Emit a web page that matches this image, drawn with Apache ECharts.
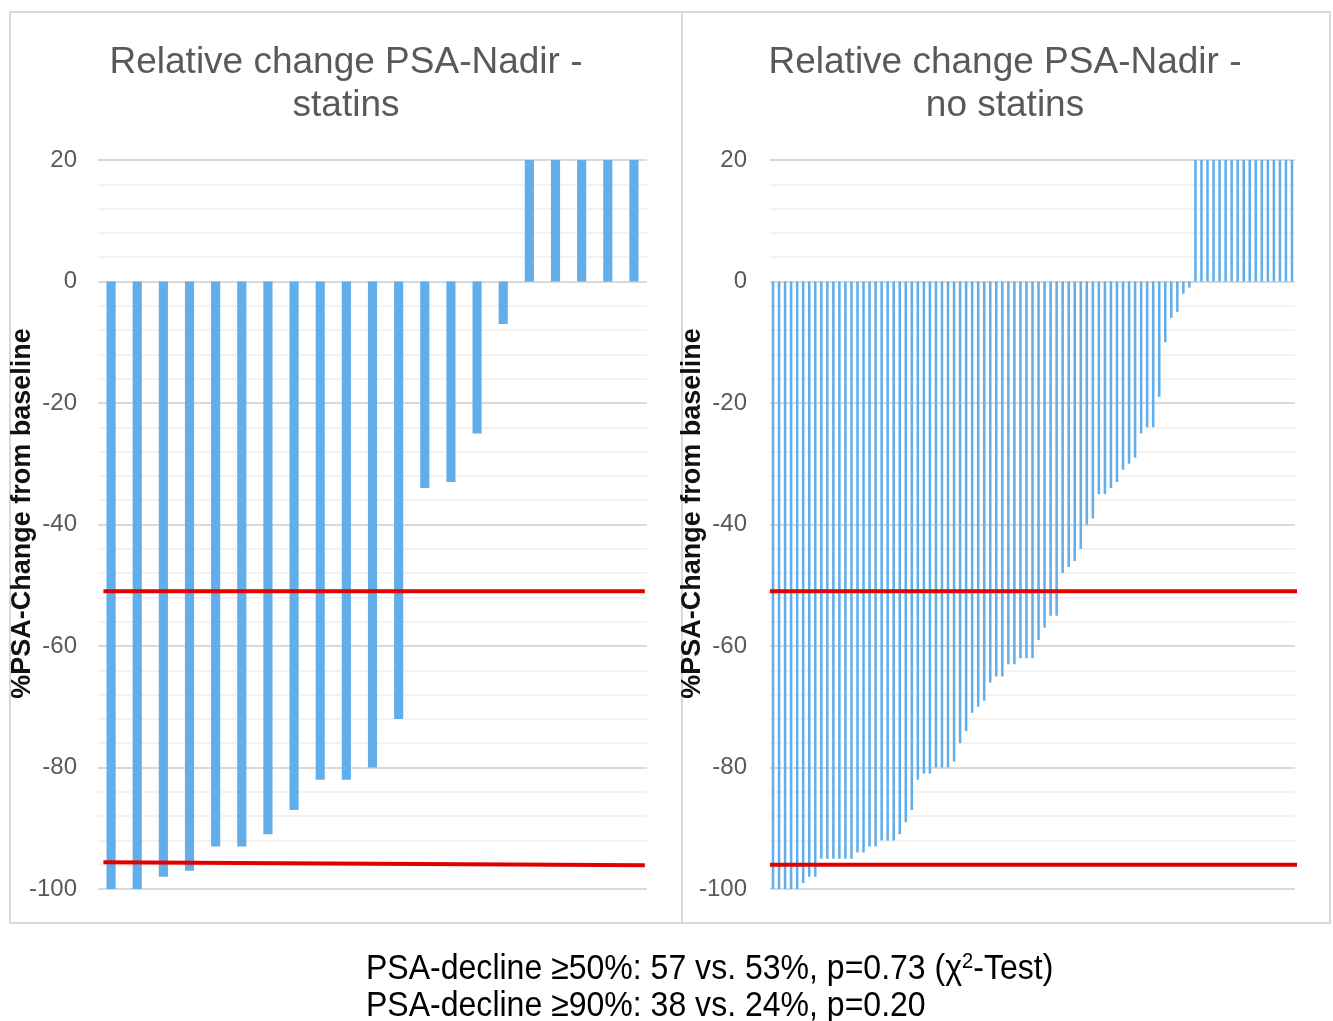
<!DOCTYPE html>
<html>
<head>
<meta charset="utf-8">
<script src="https://cdn.jsdelivr.net/npm/echarts@6/dist/echarts.min.js"></script>
<style>
html,body{margin:0;padding:0;background:#fff;}
#chart{width:1333px;height:1021px;}
</style>
</head>
<body>
<div id="chart"></div>
<script>
// ---- data ----
var titleLeft = 'Relative change PSA-Nadir -\nstatins';
var titleRight = 'Relative change PSA-Nadir -\nno statins';
var yAxisName = '%PSA-Change from baseline';
var yTicks = [-100, -80, -60, -40, -20, 0, 20];

// relative PSA change per patient, statins group (capped at +20)
var statinsValues = [-100, -100, -98, -97, -93, -93, -91, -87, -82, -82, -80, -72,
  -34, -33, -25, -7, 20, 20, 20, 20, 20];

// relative PSA change per patient, no-statins group (capped at +20)
var noStatinsValues = [-100, -100, -100, -100, -100,
  -99, -98, -98,
  -95, -95, -95, -95, -95, -95,
  -94, -94, -93, -93,
  -92, -92, -92, -91, -89, -87,
  -82, -81, -81, -80, -80, -80,
  -79, -76, -74, -71, -70, -69,
  -66, -65, -65, -63, -63,
  -62, -62, -62, -59, -57, -55, -55,
  -48, -47, -46, -44, -40, -39,
  -35, -35, -34, -33, -31, -30, -29,
  -25, -24, -24, -19, -10, -6, -5, -2, -1,
  20, 20, 20, 20, 20, 20, 20, 20, 20, 20, 20, 20, 20, 20, 20, 20, 20];

var statinsCategories = statinsValues.map(function (v, i) { return 'S' + (i + 1); });
var noStatinsCategories = noStatinsValues.map(function (v, i) { return 'N' + (i + 1); });

// threshold reference lines (50% and ~96% decline), [start, end]
var refLineX = [0, 1];
var statinsRef50 = [-51, -51];
var statinsRef90 = [-95.6, -96.1];
var noStatinsRef50 = [-51, -51];
var noStatinsRef90 = [-96, -96];

var summaryText = 'PSA-decline \u226550%: 57 vs. 53%, p=0.73 (\u03c7{sup|2}-Test)\nPSA-decline \u226590%: 38 vs. 24%, p=0.20';

// ---- chart ----
var FONT = '"Liberation Sans", Arial, Helvetica, sans-serif';
var BAR = '#62aeea';
var RED = '#e00000';

function yAxisCfg(grid, margin, gap) {
  return {
    gridIndex: grid, type: 'value', min: -100, max: 20, interval: 20,
    axisLine: {show: false}, axisTick: {show: false},
    axisLabel: {color: '#595959', fontSize: 24, margin: margin, fontFamily: FONT,
      customValues: yTicks},
    splitLine: {lineStyle: {color: '#d9d9d9', width: 2}},
    minorTick: {show: false, splitNumber: 5},
    minorSplitLine: {show: true, lineStyle: {color: '#f2f2f2', width: 2}},
    name: yAxisName, nameLocation: 'middle', nameRotate: 90, nameGap: gap,
    nameMoveOverlap: false,
    nameTextStyle: {fontSize: 27, fontWeight: 'bold', color: '#111', fontFamily: FONT,
      padding: [0, 0, 0, 22]}
  };
}

function refPairs(vals) {
  return [[refLineX[0], vals[0]], [refLineX[1], vals[1]]];
}

var chart = echarts.init(document.getElementById('chart'), null, {renderer: 'canvas'});
chart.setOption({
  animation: false,
  backgroundColor: '#fff',
  grid: [
    {left: 98, top: 160, width: 549, height: 729, outerBoundsMode: 'none', containLabel: false},
    {left: 770, top: 160, width: 525, height: 729, outerBoundsMode: 'none', containLabel: false}
  ],
  xAxis: [
    {gridIndex: 0, type: 'category', data: statinsCategories, show: false},
    {gridIndex: 1, type: 'category', data: noStatinsCategories, show: false},
    {gridIndex: 0, type: 'value', min: -0.01, max: 1.004, show: false},
    {gridIndex: 1, type: 'value', min: 0, max: 0.994, show: false}
  ],
  yAxis: [yAxisCfg(0, 21, 62), yAxisCfg(1, 23, 64)],
  series: [
    {type: 'bar', xAxisIndex: 0, yAxisIndex: 0, data: statinsValues, barWidth: '35%',
      itemStyle: {color: BAR}},
    {type: 'bar', xAxisIndex: 1, yAxisIndex: 1, data: noStatinsValues, barWidth: '42%',
      itemStyle: {color: BAR}},
    {type: 'line', xAxisIndex: 2, yAxisIndex: 0, data: refPairs(statinsRef50), symbol: 'none',
      lineStyle: {color: RED, width: 4}, clip: false, z: 5},
    {type: 'line', xAxisIndex: 2, yAxisIndex: 0, data: refPairs(statinsRef90), symbol: 'none',
      lineStyle: {color: RED, width: 4}, clip: false, z: 5},
    {type: 'line', xAxisIndex: 3, yAxisIndex: 1, data: refPairs(noStatinsRef50), symbol: 'none',
      lineStyle: {color: RED, width: 4}, clip: false, z: 5},
    {type: 'line', xAxisIndex: 3, yAxisIndex: 1, data: refPairs(noStatinsRef90), symbol: 'none',
      lineStyle: {color: RED, width: 4}, clip: false, z: 5}
  ],
  graphic: [
    {type: 'rect', shape: {x: 10, y: 12, width: 1320, height: 911},
      style: {fill: null, stroke: '#d9d9d9', lineWidth: 2}, silent: true},
    {type: 'line', shape: {x1: 682, y1: 12, x2: 682, y2: 923},
      style: {stroke: '#d9d9d9', lineWidth: 2}, silent: true},
    {type: 'text', x: 346, y: 41, style: {text: titleLeft, align: 'center', verticalAlign: 'top',
      fontSize: 37, lineHeight: 43, fontFamily: FONT, fill: '#595959'}},
    {type: 'text', x: 1005, y: 41, style: {text: titleRight, align: 'center', verticalAlign: 'top',
      fontSize: 37, lineHeight: 43, fontFamily: FONT, fill: '#595959'}},
    {type: 'text', x: 366, y: 951, scaleX: 0.915, style: {text: summaryText, align: 'left', verticalAlign: 'top',
      fontSize: 35, lineHeight: 37, fontFamily: FONT, fill: '#000',
      rich: {sup: {fontSize: 22, lineHeight: 37, verticalAlign: 'top', fontFamily: FONT, fill: '#000', padding: [0, 0, 0, 0]}}}}
  ]
});
</script>
</body>
</html>
